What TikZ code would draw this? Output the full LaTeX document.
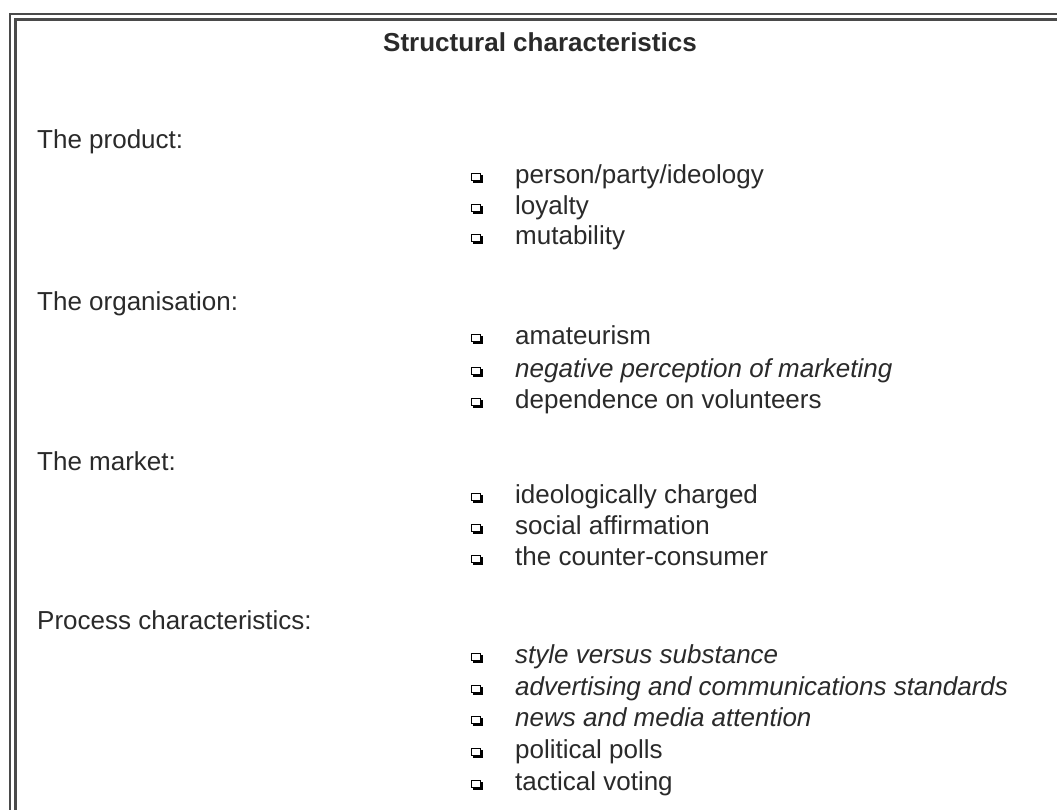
\documentclass[tikz,border=0pt]{standalone}
\usepackage{fontspec}
\setmainfont{Liberation Sans}
\usetikzlibrary{shadows}
\definecolor{txt}{HTML}{2A2A2A}
\definecolor{frame}{HTML}{4A4A4A}
\tikzset{
  lbl/.style={anchor=west, inner sep=0pt, text=txt, font=\fontsize{26}{31}\selectfont, text height=18.7pt, text depth=5.5pt},
  itm/.style={lbl},
  ttl/.style={inner sep=0pt, text=txt, font=\fontsize{26}{31}\selectfont\bfseries, text height=18.7pt, text depth=5.5pt},
  bul/.style={draw=black, line width=1.2pt, fill=white, minimum width=9.5pt, minimum height=7.5pt, inner sep=0pt,
    drop shadow={shadow xshift=1.8pt, shadow yshift=-2pt, opacity=1, fill=black}},
  fr/.style={draw=frame}
}
\begin{document}
\begin{tikzpicture}[x=1pt,y=-1pt]
\useasboundingbox[fill=white] (0,0) rectangle (1057,810);
% frame (double line, open to right and bottom)
\draw[fr, line width=2.6pt] (10,830) -- (10,14) -- (1080,14);
\draw[fr, line width=2.2pt] (15.5,830) -- (15.5,19.5) -- (1080,19.5);
% title
\node[ttl] (title) at (540,45) {Structural characteristics};
% headings
\node[lbl] (h1) at (37,142) {The product:};
\node[lbl] (h2) at (37,304) {The organisation:};
\node[lbl] (h3) at (37,464) {The market:};
\node[lbl] (h4) at (37,623) {Process characteristics:};
% items
\foreach \n/\y/\t in {
  a1/177/{person/party/ideology},
  a2/208/{loyalty},
  a3/238/{mutability},
  b1/338/{amateurism},
  b2/371/{\itshape negative perception of marketing},
  b3/402/{dependence on volunteers},
  c1/497/{ideologically charged},
  c2/528/{social affirmation},
  c3/559/{the counter-consumer},
  d1/657/{\itshape style versus substance},
  d2/689/{\itshape advertising and communications standards},
  d3/720/{\itshape news and media attention},
  d4/752/{political polls},
  d5/784/{tactical voting}}{
  \node[bul] (bx\n) at (476,\y) {};
  \node[itm] (t\n) at (515,\y) {\t};
}
\end{tikzpicture}
\end{document}
